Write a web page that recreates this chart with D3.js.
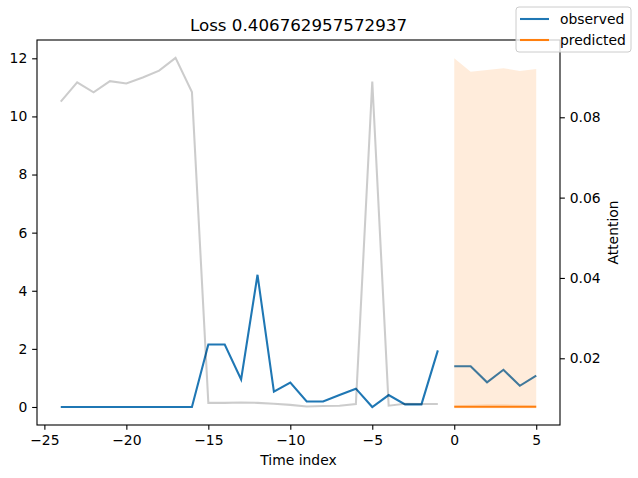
<!DOCTYPE html>
<html>
<head>
<meta charset="utf-8">
<script src="https://cdn.jsdelivr.net/npm/d3@7"></script>
<style>
    body { margin: 0; background: #fff; }
    svg text { font-family: "DejaVu Sans", sans-serif; fill: #000; }
</style>
</head>
<body>
<div id="chartDiv"></div>
<script>

// values
var encoderTime = [-24, -23, -22, -21, -20, -19, -18, -17, -16, -15, -14, -13, -12, -11, -10, -9, -8, -7, -6, -5, -4, -3, -2, -1];
var decoderTime = [0, 1, 2, 3, 4, 5];

var observedEncoder = [0, 0, 0, 0, 0, 0, 0, 0, 0, 2.15, 2.15, 0.95, 4.55, 0.53, 0.84, 0.19, 0.19, 0.41, 0.63, 0.0, 0.41, 0.09, 0.09, 1.95];
var observedDecoder = [1.40, 1.40, 0.85, 1.28, 0.73, 1.08];
var predicted = [0.01, 0.01, 0.01, 0.01, 0.01, 0.01];

var quantileLow = [-0.04, -0.04, -0.04, -0.04, -0.04, -0.04];
var quantileHigh = [12.0, 11.54, 11.6, 11.66, 11.56, 11.63];
var innerLow = [0, 0, 0, 0, 0, 0];
var innerHigh = [0.06, 0.08, 0.1, 0.1, 0.08, 0.06];

var attention = [0.0839, 0.0887, 0.0862, 0.0890, 0.0884, 0.0899, 0.0916, 0.0948, 0.0863, 0.0089, 0.0089, 0.0090, 0.0089, 0.0087, 0.0084, 0.0080, 0.0081, 0.0082, 0.0086, 0.0889, 0.0082, 0.0087, 0.0086, 0.0086];

var xTicks = [-25, -20, -15, -10, -5, 0, 5];
var yTicks = [0, 2, 4, 6, 8, 10, 12];
var y2Ticks = [0.02, 0.04, 0.06, 0.08];

var title = "Loss 0.406762957572937";
var legendLabels = ["observed", "predicted"];
var colors = ["#1f77b4", "#ff7f0e"];

var width = 638, height = 478;
var margin = { top: 40, right: 78, bottom: 53, left: 37 };

var svg = d3.select("#chartDiv").append("svg")
    .attr("width", width)
    .attr("height", height);

var x = d3.scaleLinear()
    .domain([-25.45, 6.45])
    .range([margin.left, width - margin.right]);

var y = d3.scaleLinear()
    .domain([-0.62, 12.63])
    .range([height - margin.bottom, margin.top]);

var y2 = d3.scaleLinear()
    .domain([0.00339, 0.09924])
    .range([height - margin.bottom, margin.top]);

svg.append("clipPath")
    .attr("id", "plotClip")
    .append("rect")
    .attr("x", margin.left)
    .attr("y", margin.top)
    .attr("width", width - margin.left - margin.right)
    .attr("height", height - margin.top - margin.bottom);

var plot = svg.append("g").attr("clip-path", "url(#plotClip)");

var line = d3.line()
    .x(function (d) { return x(d[0]); })
    .y(function (d) { return y(d[1]); });

function band(lo, hi) {
    return d3.area()
        .x(function (d, i) { return x(decoderTime[i]); })
        .y0(function (d, i) { return y(lo[i]); })
        .y1(function (d, i) { return y(hi[i]); })(decoderTime);
}

// observed
plot.append("path")
    .attr("d", line(d3.zip(encoderTime, observedEncoder)))
    .attr("fill", "none")
    .attr("stroke", colors[0])
    .attr("stroke-width", 2.08);

plot.append("path")
    .attr("d", line(d3.zip(decoderTime, observedDecoder)))
    .attr("fill", "none")
    .attr("stroke", colors[0])
    .attr("stroke-width", 2.08);

// quantile bands
plot.append("path")
    .attr("d", band(quantileLow, quantileHigh))
    .attr("fill", colors[1])
    .attr("fill-opacity", 0.15);

plot.append("path")
    .attr("d", band(innerLow, innerHigh))
    .attr("fill", colors[1])
    .attr("fill-opacity", 0.15);

// predicted
plot.append("path")
    .attr("d", line(d3.zip(decoderTime, predicted)))
    .attr("fill", "none")
    .attr("stroke", colors[1])
    .attr("stroke-width", 2.08);

// attention on twin axis
plot.append("path")
    .attr("d", d3.line()
        .x(function (d) { return x(d[0]); })
        .y(function (d) { return y2(d[1]); })(d3.zip(encoderTime, attention)))
    .attr("fill", "none")
    .attr("stroke", "#000")
    .attr("stroke-opacity", 0.2)
    .attr("stroke-width", 2.08);

// axes
var xAxis = d3.axisBottom(x)
    .tickValues(xTicks)
    .tickSizeInner(4.86)
    .tickSizeOuter(0)
    .tickPadding(4.86)
    .tickFormat(d3.format("d"));

var yAxis = d3.axisLeft(y)
    .tickValues(yTicks)
    .tickSizeInner(4.86)
    .tickSizeOuter(0)
    .tickPadding(4.86)
    .tickFormat(d3.format("d"));

var y2Axis = d3.axisRight(y2)
    .tickValues(y2Ticks)
    .tickSizeInner(4.86)
    .tickSizeOuter(0)
    .tickPadding(4.86)
    .tickFormat(d3.format(".2f"));

function styleAxis(g) {
    g.select(".domain").remove();
    g.selectAll(".tick line").attr("stroke", "#000").attr("stroke-width", 1.1);
    g.selectAll(".tick text")
        .style("font-family", "DejaVu Sans")
        .style("font-size", "13.9px")
        .attr("fill", "#000");
}

svg.append("g")
    .attr("transform", "translate(0," + (height - margin.bottom) + ")")
    .call(xAxis)
    .call(styleAxis);

svg.append("g")
    .attr("transform", "translate(" + margin.left + ",0)")
    .call(yAxis)
    .call(styleAxis);

svg.append("g")
    .attr("transform", "translate(" + (width - margin.right) + ",0)")
    .call(y2Axis)
    .call(styleAxis);

// spines
svg.append("rect")
    .attr("x", margin.left)
    .attr("y", margin.top)
    .attr("width", width - margin.left - margin.right)
    .attr("height", height - margin.top - margin.bottom)
    .attr("fill", "none")
    .attr("stroke", "#000")
    .attr("stroke-width", 1.1);

// labels
svg.append("text")
    .attr("x", (margin.left + width - margin.right) / 2)
    .attr("y", 31)
    .attr("text-anchor", "middle")
    .style("font-size", "16.7px")
    .text(title);

svg.append("text")
    .attr("x", (margin.left + width - margin.right) / 2)
    .attr("y", 465)
    .attr("text-anchor", "middle")
    .style("font-size", "13.9px")
    .text("Time index");

svg.append("text")
    .attr("transform", "translate(618," + ((margin.top + height - margin.bottom) / 2) + ") rotate(-90)")
    .attr("text-anchor", "middle")
    .style("font-size", "13.9px")
    .text("Attention");

// figure legend
var legend = svg.append("g").attr("transform", "translate(516,7)");

legend.append("rect")
    .attr("width", 115)
    .attr("height", 45)
    .attr("rx", 3)
    .attr("fill", "#fff")
    .attr("fill-opacity", 0.8)
    .attr("stroke", "#ccc")
    .attr("stroke-width", 1);

legendLabels.forEach(function (label, i) {
    var ly = 12 + i * 21;
    legend.append("line")
        .attr("x1", 4)
        .attr("x2", 33)
        .attr("y1", ly)
        .attr("y2", ly)
        .attr("stroke", colors[i])
        .attr("stroke-width", 2.08);
    legend.append("text")
        .attr("x", 44)
        .attr("y", ly + 5)
        .style("font-size", "13.9px")
        .text(label);
});

</script>
</body>
</html>
